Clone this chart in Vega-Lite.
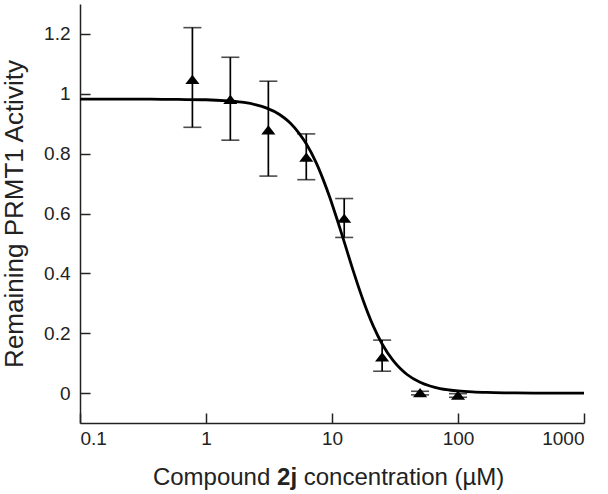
{
  "$schema": "https://vega.github.io/schema/vega-lite/v6.json",
  "width": 504,
  "height": 419,
  "autosize": {"type": "none"},
  "padding": {"left": 80, "top": 4, "right": 24, "bottom": 71},
  "background": "white",
  "config": {
    "view": {"stroke": null},
    "font": "Liberation Sans",
    "axis": {
      "grid": false,
      "domainColor": "#222",
      "domainWidth": 1.5,
      "tickColor": "#222",
      "tickWidth": 1.5,
      "tickSize": -10,
      "labelFont": "Liberation Sans",
      "labelFontSize": 19,
      "labelColor": "#222",
      "titleFont": "Liberation Sans",
      "titleFontWeight": "normal",
      "titleColor": "#222"
    }
  },
  "datasets": {
    "points": [
      {"conc": 0.78, "activity": 1.047, "low": 0.888, "high": 1.221},
      {"conc": 1.56, "activity": 0.98, "low": 0.845, "high": 1.122},
      {"conc": 3.125, "activity": 0.878, "low": 0.725, "high": 1.042},
      {"conc": 6.25, "activity": 0.787, "low": 0.713, "high": 0.866},
      {"conc": 12.5, "activity": 0.583, "low": 0.52, "high": 0.65},
      {"conc": 25, "activity": 0.12, "low": 0.073, "high": 0.177},
      {"conc": 50, "activity": 0.0, "low": -0.006, "high": 0.006},
      {"conc": 100, "activity": -0.008, "low": -0.014, "high": -0.002}
    ],
    "curve": [
      {"conc": 0.1, "activity": 0.982},
      {"conc": 0.3, "activity": 0.982},
      {"conc": 0.6, "activity": 0.981},
      {"conc": 1, "activity": 0.98},
      {"conc": 1.5, "activity": 0.976},
      {"conc": 2, "activity": 0.971},
      {"conc": 2.5, "activity": 0.963},
      {"conc": 3, "activity": 0.953},
      {"conc": 3.86, "activity": 0.93},
      {"conc": 4.64, "activity": 0.903},
      {"conc": 5.5, "activity": 0.867},
      {"conc": 6.25, "activity": 0.833},
      {"conc": 7.5, "activity": 0.769},
      {"conc": 8.5, "activity": 0.714},
      {"conc": 9.64, "activity": 0.652},
      {"conc": 11, "activity": 0.579},
      {"conc": 12.5, "activity": 0.505},
      {"conc": 14.7, "activity": 0.41},
      {"conc": 17.6, "activity": 0.312},
      {"conc": 21.1, "activity": 0.227},
      {"conc": 25, "activity": 0.164},
      {"conc": 30.5, "activity": 0.109},
      {"conc": 35, "activity": 0.081},
      {"conc": 39.4, "activity": 0.062},
      {"conc": 50, "activity": 0.036},
      {"conc": 60, "activity": 0.0235},
      {"conc": 72, "activity": 0.015},
      {"conc": 85, "activity": 0.0103},
      {"conc": 100, "activity": 0.007},
      {"conc": 130, "activity": 0.0038},
      {"conc": 170, "activity": 0.002},
      {"conc": 250, "activity": 0.0008},
      {"conc": 400, "activity": 0},
      {"conc": 1000, "activity": 0}
    ]
  },
  "layer": [
    {
      "data": {"name": "curve"},
      "mark": {"type": "line", "color": "black", "strokeWidth": 2.8, "interpolate": "monotone"},
      "encoding": {
        "x": {
          "field": "conc",
          "type": "quantitative",
          "scale": {"type": "log", "domain": [0.1, 1000]},
          "axis": {"values": [0.1, 1, 10, 100, 1000], "format": "~g", "title": null, "labelPadding": 16}
        },
        "y": {
          "field": "activity",
          "type": "quantitative",
          "scale": {"domain": [-0.1, 1.3], "nice": false, "zero": false},
          "axis": {
            "values": [0, 0.2, 0.4, 0.6, 0.8, 1, 1.2],
            "format": "~g",
            "title": "Remaining PRMT1 Activity",
            "titleFontSize": 26,
            "titlePadding": 16,
            "labelPadding": 20
          }
        }
      }
    },
    {
      "data": {"name": "points"},
      "mark": {"type": "rule", "color": "black", "strokeWidth": 1.7},
      "encoding": {
        "x": {"field": "conc", "type": "quantitative"},
        "y": {"field": "low", "type": "quantitative"},
        "y2": {"field": "high"}
      }
    },
    {
      "data": {"name": "points"},
      "mark": {"type": "tick", "orient": "horizontal", "size": 18, "thickness": 1.6, "color": "black"},
      "encoding": {
        "x": {"field": "conc", "type": "quantitative"},
        "y": {"field": "low", "type": "quantitative"}
      }
    },
    {
      "data": {"name": "points"},
      "mark": {"type": "tick", "orient": "horizontal", "size": 18, "thickness": 1.6, "color": "black"},
      "encoding": {
        "x": {"field": "conc", "type": "quantitative"},
        "y": {"field": "high", "type": "quantitative"}
      }
    },
    {
      "data": {"name": "points"},
      "mark": {"type": "point", "shape": "M-1,0.6L1,0.6L0,-0.7Z", "filled": true, "color": "black", "opacity": 1, "size": 200},
      "encoding": {
        "x": {"field": "conc", "type": "quantitative"},
        "y": {"field": "activity", "type": "quantitative"}
      }
    },
    {
      "data": {"values": [{}]},
      "mark": {"type": "text", "text": "Compound", "align": "right", "baseline": "alphabetic", "font": "Liberation Sans", "fontSize": 24, "color": "#222"},
      "encoding": {
        "x": {"datum": 3.24, "type": "quantitative"},
        "y": {"datum": -0.307, "type": "quantitative"}
      }
    },
    {
      "data": {"values": [{}]},
      "mark": {"type": "text", "text": "2j", "align": "center", "baseline": "alphabetic", "font": "Liberation Sans", "fontSize": 24, "fontWeight": "bold", "color": "#222"},
      "encoding": {
        "x": {"datum": 4.4, "type": "quantitative"},
        "y": {"datum": -0.307, "type": "quantitative"}
      }
    },
    {
      "data": {"values": [{}]},
      "mark": {"type": "text", "text": "concentration (µM)", "align": "left", "baseline": "alphabetic", "font": "Liberation Sans", "fontSize": 24, "color": "#222"},
      "encoding": {
        "x": {"datum": 5.97, "type": "quantitative"},
        "y": {"datum": -0.307, "type": "quantitative"}
      }
    }
  ]
}
